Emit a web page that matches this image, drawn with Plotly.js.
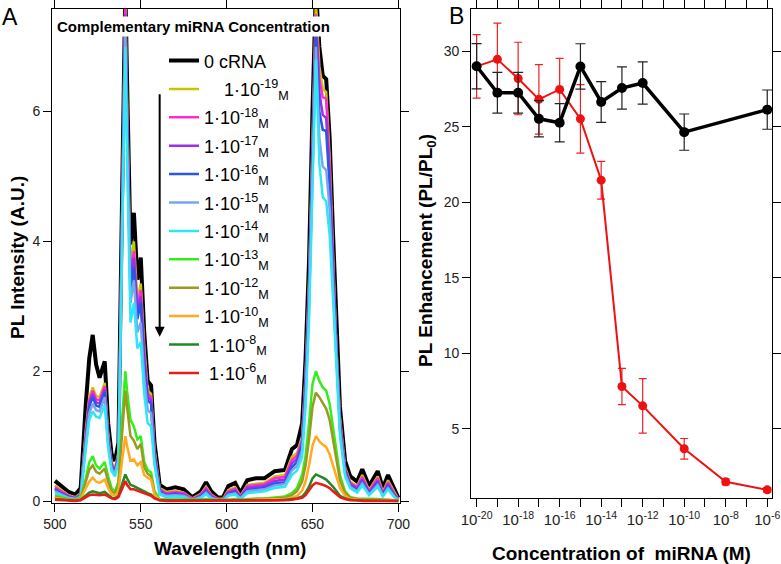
<!DOCTYPE html>
<html>
<head>
<meta charset="utf-8">
<script src="https://cdn.plot.ly/plotly-3.0.1.min.js"></script>
<style>
  html, body { margin: 0; padding: 0; background: #fff; }
  #chart { width: 781px; height: 564px; }
</style>
</head>
<body>
<div id="chart"></div>
<script>
// ---- panel A : PL spectra ----
var wave = [500,504,508,512,515,518,520,522,524,526,529,531,533,535,537,539,541,542,544,546,
            548,550,552,554,556,558,561,565,570,575,580,585,588,591,595,598,601,605,608,612,
            617,622,628,634,638,641,644,646,648,650,652,654,656,658,660,662,664,666,669,672,
            676,679,683,688,691,694,698,700];

var pl0 = [0.31,0.22,0.14,0.10,0.20,1.50,2.20,2.56,2.10,1.90,2.15,1.20,0.72,0.62,0.90,4.50,7.90,6.50,3.95,4.44,
           3.41,3.75,2.60,1.85,1.78,0.90,0.25,0.18,0.21,0.18,0.06,0.15,0.29,0.15,0.05,0.06,0.23,0.28,0.12,0.32,
           0.35,0.35,0.46,0.48,0.80,0.86,1.20,2.20,3.70,6.00,7.90,7.00,6.55,6.50,5.60,4.10,2.60,1.45,0.62,0.38,
           0.30,0.49,0.23,0.46,0.20,0.40,0.17,0.05];
var pl19 = [0.24,0.16,0.09,0.06,0.12,1.10,1.60,1.75,1.62,1.60,1.82,1.05,0.60,0.50,0.75,4.30,7.80,6.20,3.60,4.00,
            3.10,3.35,2.40,1.70,1.65,0.80,0.20,0.14,0.16,0.13,0.04,0.11,0.22,0.10,0.03,0.04,0.17,0.21,0.08,0.25,
            0.27,0.28,0.38,0.40,0.68,0.74,1.00,1.95,3.40,5.70,7.70,6.70,6.35,6.30,5.30,3.80,2.35,1.30,0.52,0.30,
            0.23,0.40,0.17,0.38,0.14,0.32,0.12,0.03];
var pl18 = [0.21,0.14,0.08,0.05,0.10,1.05,1.55,1.70,1.57,1.55,1.77,1.00,0.57,0.48,0.72,4.20,7.60,6.00,3.45,3.85,
            3.00,3.25,2.30,1.65,1.60,0.76,0.18,0.12,0.14,0.12,0.03,0.10,0.20,0.09,0.03,0.03,0.15,0.19,0.07,0.23,
            0.25,0.26,0.35,0.37,0.63,0.70,0.95,1.90,3.30,5.60,7.50,6.50,6.22,6.20,5.15,3.70,2.30,1.25,0.50,0.28,
            0.21,0.37,0.15,0.35,0.12,0.29,0.10,0.03];
var pl17 = [0.19,0.12,0.07,0.04,0.09,1.00,1.50,1.65,1.52,1.50,1.72,0.97,0.55,0.46,0.70,4.10,7.50,5.90,3.35,3.75,
            2.90,3.15,2.20,1.60,1.55,0.73,0.16,0.10,0.12,0.10,0.02,0.08,0.17,0.07,0.02,0.02,0.13,0.16,0.06,0.20,
            0.22,0.23,0.31,0.33,0.58,0.65,0.90,1.85,3.20,5.50,7.40,6.30,5.95,5.90,5.00,3.60,2.25,1.20,0.48,0.26,
            0.19,0.33,0.13,0.31,0.10,0.26,0.08,0.02];
var pl16 = [0.17,0.11,0.06,0.04,0.08,0.95,1.45,1.60,1.47,1.45,1.68,0.93,0.52,0.44,0.68,4.00,7.40,5.80,3.25,3.60,
            2.80,3.05,2.10,1.55,1.50,0.70,0.14,0.09,0.10,0.09,0.02,0.07,0.15,0.06,0.02,0.02,0.11,0.14,0.05,0.17,
            0.19,0.20,0.27,0.29,0.52,0.60,0.85,1.75,3.10,5.35,7.20,6.00,5.72,5.70,4.85,3.50,2.20,1.15,0.45,0.24,
            0.17,0.30,0.11,0.28,0.09,0.23,0.07,0.02];
var pl15 = [0.15,0.10,0.05,0.03,0.07,0.90,1.35,1.50,1.40,1.38,1.60,0.88,0.50,0.42,0.65,3.90,7.20,5.60,3.05,3.40,
            2.60,2.75,1.90,1.40,1.35,0.62,0.12,0.08,0.09,0.08,0.02,0.06,0.13,0.05,0.02,0.02,0.10,0.12,0.04,0.15,
            0.17,0.18,0.24,0.26,0.47,0.54,0.78,1.60,2.95,5.20,7.00,5.60,5.15,5.10,4.50,3.30,2.10,1.10,0.42,0.22,
            0.15,0.27,0.10,0.25,0.08,0.20,0.06,0.02];
var pl14 = [0.12,0.08,0.04,0.03,0.06,0.80,1.25,1.38,1.30,1.28,1.48,0.82,0.46,0.38,0.60,3.70,7.00,5.30,2.75,3.05,
            2.35,2.45,1.65,1.20,1.15,0.55,0.10,0.06,0.07,0.06,0.01,0.05,0.10,0.04,0.01,0.01,0.08,0.10,0.03,0.12,
            0.14,0.15,0.20,0.22,0.40,0.47,0.68,1.45,2.80,5.00,6.80,5.20,4.68,4.62,4.10,3.10,2.00,1.00,0.38,0.20,
            0.13,0.24,0.09,0.22,0.07,0.18,0.05,0.02];
var pl13 = [0.08,0.05,0.03,0.02,0.05,0.35,0.60,0.69,0.55,0.50,0.60,0.38,0.20,0.15,0.30,1.20,2.00,1.70,1.25,1.15,
            0.95,1.00,0.60,0.48,0.44,0.15,0.03,0.02,0.02,0.02,0.01,0.02,0.03,0.02,0.01,0.01,0.02,0.03,0.02,0.03,
            0.04,0.04,0.05,0.07,0.12,0.20,0.40,0.70,1.20,1.80,2.00,1.85,1.75,1.70,1.50,1.15,0.75,0.40,0.15,0.06,
            0.04,0.04,0.03,0.03,0.02,0.02,0.02,0.01];
var pl12 = [0.07,0.04,0.02,0.02,0.04,0.30,0.48,0.55,0.45,0.42,0.50,0.30,0.15,0.12,0.25,1.00,1.70,1.45,1.00,0.93,
            0.80,0.88,0.52,0.42,0.38,0.12,0.02,0.02,0.02,0.02,0.01,0.02,0.02,0.01,0.01,0.01,0.02,0.02,0.01,0.02,
            0.03,0.03,0.04,0.05,0.09,0.15,0.30,0.55,0.95,1.45,1.67,1.60,1.50,1.42,1.25,0.95,0.60,0.32,0.12,0.05,
            0.03,0.03,0.02,0.02,0.02,0.02,0.01,0.01];
var pl10 = [0.05,0.03,0.02,0.01,0.03,0.20,0.30,0.36,0.30,0.28,0.33,0.20,0.10,0.08,0.15,0.60,1.00,0.85,0.62,0.64,
            0.55,0.60,0.40,0.36,0.33,0.10,0.02,0.01,0.01,0.01,0.01,0.01,0.01,0.01,0.00,0.00,0.01,0.01,0.01,0.01,
            0.02,0.02,0.03,0.03,0.05,0.08,0.16,0.30,0.55,0.85,1.00,0.92,0.87,0.83,0.72,0.55,0.36,0.20,0.08,0.03,
            0.02,0.02,0.01,0.01,0.01,0.01,0.01,0.00];
var pl8 = [0.03,0.02,0.01,0.01,0.02,0.08,0.13,0.15,0.13,0.12,0.14,0.09,0.05,0.04,0.08,0.25,0.41,0.35,0.25,0.23,
           0.20,0.18,0.15,0.12,0.10,0.05,0.01,0.01,0.01,0.01,0.00,0.01,0.01,0.00,0.00,0.00,0.01,0.01,0.00,0.01,
           0.01,0.01,0.01,0.02,0.03,0.04,0.07,0.13,0.22,0.35,0.41,0.39,0.36,0.33,0.28,0.22,0.15,0.08,0.04,0.02,
           0.01,0.01,0.01,0.01,0.00,0.00,0.00,0.00];
var pl6 = [0.02,0.01,0.01,0.00,0.01,0.06,0.09,0.10,0.09,0.09,0.10,0.07,0.04,0.03,0.06,0.18,0.31,0.25,0.18,0.18,
           0.16,0.15,0.12,0.10,0.08,0.04,0.01,0.00,0.00,0.00,0.00,0.00,0.00,0.00,0.00,0.00,0.00,0.00,0.00,0.00,
           0.00,0.01,0.01,0.01,0.02,0.03,0.05,0.09,0.16,0.24,0.28,0.27,0.25,0.23,0.20,0.15,0.10,0.06,0.03,0.01,
           0.01,0.00,0.00,0.00,0.00,0.00,0.00,0.00];

var specNames = ['0 cRNA',
  '\u00a0\u00a0\u00a0\u00a01\u00b710<sup>-19</sup><sub>M</sub>',
  '1\u00b710<sup>-18</sup><sub>M</sub>',
  '1\u00b710<sup>-17</sup><sub>M</sub>',
  '1\u00b710<sup>-16</sup><sub>M</sub>',
  '1\u00b710<sup>-15</sup><sub>M</sub>',
  '1\u00b710<sup>-14</sup><sub>M</sub>',
  '1\u00b710<sup>-13</sup><sub>M</sub>',
  '1\u00b710<sup>-12</sup><sub>M</sub>',
  '1\u00b710<sup>-10</sup><sub>M</sub>',
  '\u00a01\u00b710<sup>-8</sup><sub>M</sub>',
  '\u00a01\u00b710<sup>-6</sup><sub>M</sub>'];
var specData = [pl0, pl19, pl18, pl17, pl16, pl15, pl14, pl13, pl12, pl10, pl8, pl6];
var specColors = ['#000000','#c9c400','#ff2ad4','#9b30e8','#2a55e6','#7ba4ee',
                  '#30e6f5','#33ee1a','#9a9a22','#ffaa22','#1f8a1f','#ee1a1a'];

// ---- panel B : enhancement vs concentration ----
var concRed = [1e-20,1e-19,1e-18,1e-17,1e-16,1e-15,1e-14,1e-13,1e-12,1e-10,1e-8,1e-6];
var enhRed  = [29.0,29.47,28.2,26.82,27.48,25.53,21.47,7.81,6.53,3.69,1.5,0.97];
var errRed  = [2.1,2.4,2.4,2.3,2.05,2.27,1.25,1.2,1.8,0.68,0.2,0.15];
var concBlk = [1e-20,1e-19,1e-18,1e-17,1e-16,1e-15,1e-14,1e-13,1e-12,1e-10,1e-6];
var enhBlk  = [29.01,27.26,27.26,25.53,25.27,29.0,26.65,27.57,27.9,24.65,26.14];
var errBlk  = [1.5,1.35,1.35,1.2,1.27,1.5,1.35,1.4,1.4,1.2,1.3];

var logTicks = [1e-20,1e-19,1e-18,1e-17,1e-16,1e-15,1e-14,1e-13,1e-12,1e-11,1e-10,1e-9,1e-8,1e-7,1e-6];
var logText = ['10<sup>-20</sup>','','10<sup>-18</sup>','','10<sup>-16</sup>','','10<sup>-14</sup>','',
               '10<sup>-12</sup>','','10<sup>-10</sup>','','10<sup>-8</sup>','','10<sup>-6</sup>'];

var traces = [];
for (var i = 0; i < specData.length; i++) {
  traces.push({
    x: wave, y: specData[i], type: 'scatter', mode: 'lines',
    name: specNames[i], legendgroup: 'g' + i,
    line: {color: specColors[i], width: i == 0 ? 4 : 2.5},
    xaxis: 'x', yaxis: 'y'
  });
}
traces.push({
  x: concRed, y: enhRed, type: 'scatter', mode: 'lines+markers', showlegend: false,
  line: {color: '#ee1111', width: 2}, marker: {color: '#ee1111', size: 9},
  error_y: {type: 'data', array: errRed, color: '#ee2222', thickness: 1.2, width: 4},
  xaxis: 'x2', yaxis: 'y2'
});
traces.push({
  x: concBlk, y: enhBlk, type: 'scatter', mode: 'lines+markers', showlegend: false,
  line: {color: '#000000', width: 3.5}, marker: {color: '#000000', size: 10},
  error_y: {type: 'data', array: errBlk, color: '#222222', thickness: 1.2, width: 5},
  xaxis: 'x2', yaxis: 'y2'
});

var fam = 'Liberation Sans, Arial, sans-serif';
var tickFont = {family: fam, size: 14, color: '#222'};
var axBase = {showline: true, linecolor: '#000', linewidth: 1, mirror: 'ticks', ticks: 'outside',
              ticklen: 8, tickcolor: '#000', showgrid: false, zeroline: false, tickfont: tickFont,
              ticklabeloverflow: 'allow'};
var titleFont = {family: fam, size: 19, color: '#000', weight: 'bold'};

// label helper: paper-pixel position, centred
function label(txt, px, py, font, angle) {
  return {text: txt, xref: 'paper', yref: 'paper', x: px / 781, y: 1 - py / 564,
          xanchor: 'center', yanchor: 'middle', textangle: angle || 0, showarrow: false, font: font};
}

var layout = {
  width: 781, height: 564,
  margin: {l: 0, r: 0, t: 0, b: 0},
  paper_bgcolor: '#fff', plot_bgcolor: '#fff',
  showlegend: true,
  legend: {x: 164 / 781, xanchor: 'left', y: 0.925, yanchor: 'top', bgcolor: 'rgba(0,0,0,0)',
           font: {family: fam, size: 18, color: '#000'}, tracegroupgap: 2},
  xaxis: Object.assign({}, axBase, {domain: [0.0666, 0.5122], range: [498.3, 701], tickvals: [500,550,600,650,700]}),
  yaxis: Object.assign({}, axBase, {domain: [0.1082, 0.984], range: [-0.03, 7.58], tickvals: [0,2,4,6]}),
  xaxis2: Object.assign({}, axBase, {domain: [0.6031, 0.9885], type: 'log', range: [-20.27, -5.77],
           tickvals: logTicks, ticktext: logText, anchor: 'y2',
           tickfont: {family: fam, size: 15, color: '#222'}}),
  yaxis2: Object.assign({}, axBase, {domain: [0.117, 0.984], range: [0.43, 32.8], tickvals: [5,10,15,20,25,30], anchor: 'x2'}),
  annotations: [
    {text: 'Complementary miRNA Concentration', xref: 'paper', yref: 'paper', x: 55 / 781, y: 1 - 27 / 564,
     xanchor: 'left', yanchor: 'middle', showarrow: false, bgcolor: '#fff', borderpad: 1,
     font: {family: fam, size: 15, color: '#000', weight: 'bold'}},
    {text: '', xref: 'x', yref: 'y', x: 561, y: 2.53, axref: 'x', ayref: 'y', ax: 561, ay: 6.29,
     showarrow: true, arrowhead: 2, arrowsize: 1, arrowwidth: 2, arrowcolor: '#000'},
    label('A', 10, 17, {family: fam, size: 23, color: '#000'}),
    label('B', 456, 16, {family: fam, size: 23, color: '#000'}),
    label('PL Intensity (A.U.)', 18, 258, titleFont, -90),
    label('Wavelength (nm)', 230, 548, titleFont),
    label('PL Enhancement (PL/PL<sub>0</sub>)', 427, 251, titleFont, -90),
    label('Concentration of  miRNA (M)', 621, 553, titleFont)
  ]
};

Plotly.newPlot('chart', traces, layout, {displayModeBar: false, staticPlot: true});
</script>
</body>
</html>
